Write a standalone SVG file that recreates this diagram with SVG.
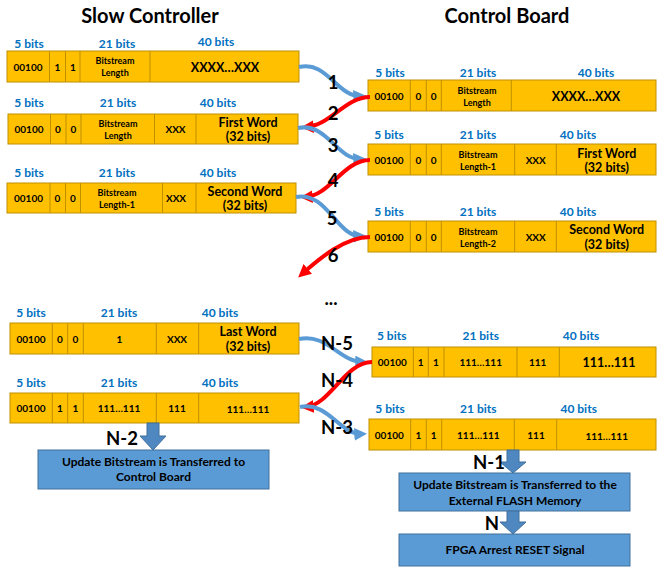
<svg xmlns="http://www.w3.org/2000/svg" width="657" height="567" viewBox="0 0 657 567">
<defs>
<style>
text{font-family:Lato,"Open Sans","Liberation Sans",sans-serif;font-weight:bold;text-anchor:middle;dominant-baseline:central}
.title{font-size:20px;fill:#000}
.bits{font-size:12px;fill:#0070C0}
.cell{fill:#FFC000;stroke:#BF9000;stroke-width:1}
.div{stroke:#BF9000;stroke-width:1}
.s{font-size:9px;fill:#000}
.m{font-size:10px;fill:#000}
.l{font-size:12.5px;fill:#000}
.num{font-size:18.5px;fill:#000}
.blue{fill:none;stroke:#5B9BD5;stroke-width:4}
.red{fill:none;stroke:#FF0000;stroke-width:4}
.box{fill:#5B9BD5;stroke:#41719C;stroke-width:1}
.bt{font-size:12px;fill:#000}
.barrow{fill:#4F87C1;stroke:#41719C;stroke-width:1}
</style>
<marker id="ab" viewBox="0 0 10 10" refX="6" refY="5" markerWidth="3.2" markerHeight="3.2" orient="auto" markerUnits="strokeWidth">
<path d="M0,0 L10,5 L0,10 z" fill="#5B9BD5"/>
</marker>
<marker id="ar" viewBox="0 0 10 10" refX="6" refY="5" markerWidth="3.2" markerHeight="3.2" orient="auto" markerUnits="strokeWidth">
<path d="M0,0 L10,5 L0,10 z" fill="#FF0000"/>
</marker>
</defs>
<rect width="657" height="567" fill="#fff"/>
<text class="title" x="150" y="15">Slow Controller</text>
<text class="title" x="507" y="15">Control Board</text>

<!-- Slow Controller rows -->
<g id="sc1">
<text class="bits" x="29" y="43">5 bits</text><text class="bits" x="117" y="43">21 bits</text><text class="bits" x="216" y="41">40 bits</text>
<rect class="cell" x="7" y="51" width="292" height="31"/>
<line class="div" x1="49.5" y1="51" x2="49.5" y2="82"/><line class="div" x1="65.5" y1="51" x2="65.5" y2="82"/><line class="div" x1="80" y1="51" x2="80" y2="82"/><line class="div" x1="150" y1="51" x2="150" y2="82"/>
<text class="m" x="28" y="66.5">00100</text><text class="m" x="57.5" y="66.5">1</text><text class="m" x="73" y="66.5">1</text>
<text class="s" x="115" y="60.5">Bitstream</text><text class="s" x="115" y="72.5">Length</text>
<text class="l" x="225" y="67">XXXX…XXX</text>
</g>
<g id="sc2">
<text class="bits" x="29" y="102">5 bits</text><text class="bits" x="118" y="102">21 bits</text><text class="bits" x="218" y="102">40 bits</text>
<rect class="cell" x="8" y="114" width="290" height="30"/>
<line class="div" x1="50.5" y1="114" x2="50.5" y2="144"/><line class="div" x1="66" y1="114" x2="66" y2="144"/><line class="div" x1="81" y1="114" x2="81" y2="144"/><line class="div" x1="154.5" y1="114" x2="154.5" y2="144"/><line class="div" x1="196" y1="114" x2="196" y2="144"/>
<text class="m" x="29" y="129">00100</text><text class="m" x="58" y="129">0</text><text class="m" x="73.5" y="129">0</text>
<text class="s" x="118" y="123">Bitstream</text><text class="s" x="118" y="135">Length</text>
<text class="m" x="175.5" y="129">XXX</text>
<text class="l" x="248" y="122">First Word</text><text class="l" x="248" y="136.5">(32 bits)</text>
</g>
<g id="sc3">
<text class="bits" x="29" y="172">5 bits</text><text class="bits" x="117" y="172">21 bits</text><text class="bits" x="218" y="172">40 bits</text>
<rect class="cell" x="7" y="183" width="289" height="30"/>
<line class="div" x1="50" y1="183" x2="50" y2="213"/><line class="div" x1="65.5" y1="183" x2="65.5" y2="213"/><line class="div" x1="80.5" y1="183" x2="80.5" y2="213"/><line class="div" x1="162.5" y1="183" x2="162.5" y2="213"/><line class="div" x1="196" y1="183" x2="196" y2="213"/>
<text class="m" x="28.5" y="198">00100</text><text class="m" x="57.5" y="198">0</text><text class="m" x="73" y="198">0</text>
<text class="s" x="117" y="192">Bitstream</text><text class="s" x="117" y="204">Length-1</text>
<text class="m" x="176" y="198">XXX</text>
<text class="l" x="245" y="191">Second Word</text><text class="l" x="245" y="205.5">(32 bits)</text>
</g>
<g id="sc4">
<text class="bits" x="31" y="312">5 bits</text><text class="bits" x="119" y="312">21 bits</text><text class="bits" x="220" y="312">40 bits</text>
<rect class="cell" x="10" y="323" width="289" height="31"/>
<line class="div" x1="52.3" y1="323" x2="52.3" y2="354"/><line class="div" x1="67.7" y1="323" x2="67.7" y2="354"/><line class="div" x1="83.3" y1="323" x2="83.3" y2="354"/><line class="div" x1="156.3" y1="323" x2="156.3" y2="354"/><line class="div" x1="198.7" y1="323" x2="198.7" y2="354"/>
<text class="m" x="31" y="339">00100</text><text class="m" x="60" y="339">0</text><text class="m" x="75.5" y="339">0</text>
<text class="m" x="119.5" y="339">1</text>
<text class="m" x="177" y="339">XXX</text>
<text class="l" x="248" y="331">Last Word</text><text class="l" x="248" y="346.5">(32 bits)</text>
</g>
<g id="sc5">
<text class="bits" x="31" y="382">5 bits</text><text class="bits" x="119" y="382">21 bits</text><text class="bits" x="220" y="382">40 bits</text>
<rect class="cell" x="10" y="393" width="289" height="30"/>
<line class="div" x1="52.3" y1="393" x2="52.3" y2="423"/><line class="div" x1="67.7" y1="393" x2="67.7" y2="423"/><line class="div" x1="83.3" y1="393" x2="83.3" y2="423"/><line class="div" x1="156.3" y1="393" x2="156.3" y2="423"/><line class="div" x1="198.7" y1="393" x2="198.7" y2="423"/>
<text class="m" x="31" y="408">00100</text><text class="m" x="60" y="408">1</text><text class="m" x="75.5" y="408">1</text>
<text class="m" x="119" y="408">111…111</text>
<text class="m" x="177" y="408">111</text>
<text class="m" x="248" y="408.5">111…111</text>
</g>

<!-- Control Board rows -->
<g id="cb1">
<text class="bits" x="390" y="72">5 bits</text><text class="bits" x="478" y="72">21 bits</text><text class="bits" x="596" y="72">40 bits</text>
<rect class="cell" x="368" y="80" width="288" height="31"/>
<line class="div" x1="410.3" y1="80" x2="410.3" y2="111"/><line class="div" x1="426.3" y1="80" x2="426.3" y2="111"/><line class="div" x1="441.3" y1="80" x2="441.3" y2="111"/><line class="div" x1="511.3" y1="80" x2="511.3" y2="111"/>
<text class="m" x="389" y="96">00100</text><text class="m" x="418.3" y="96">0</text><text class="m" x="433.7" y="96">0</text>
<text class="s" x="477" y="90">Bitstream</text><text class="s" x="477" y="102.5">Length</text>
<text class="l" x="586" y="96.5">XXXX…XXX</text>
</g>
<g id="cb2">
<text class="bits" x="389" y="134">5 bits</text><text class="bits" x="478" y="134">21 bits</text><text class="bits" x="578" y="134">40 bits</text>
<rect class="cell" x="368" y="144" width="288" height="31"/>
<line class="div" x1="410.3" y1="144" x2="410.3" y2="175"/><line class="div" x1="426.3" y1="144" x2="426.3" y2="175"/><line class="div" x1="441.3" y1="144" x2="441.3" y2="175"/><line class="div" x1="514.7" y1="144" x2="514.7" y2="175"/><line class="div" x1="556.3" y1="144" x2="556.3" y2="175"/>
<text class="m" x="389" y="160">00100</text><text class="m" x="418.3" y="160">0</text><text class="m" x="433.7" y="160">0</text>
<text class="s" x="478" y="154">Bitstream</text><text class="s" x="478" y="166.5">Length-1</text>
<text class="m" x="535.7" y="160">XXX</text>
<text class="l" x="606.7" y="153">First Word</text><text class="l" x="606.7" y="167.5">(32 bits)</text>
</g>
<g id="cb3">
<text class="bits" x="389" y="211">5 bits</text><text class="bits" x="478" y="211">21 bits</text><text class="bits" x="578" y="211">40 bits</text>
<rect class="cell" x="368" y="221" width="288" height="31"/>
<line class="div" x1="410.3" y1="221" x2="410.3" y2="252"/><line class="div" x1="426.3" y1="221" x2="426.3" y2="252"/><line class="div" x1="441.3" y1="221" x2="441.3" y2="252"/><line class="div" x1="514.7" y1="221" x2="514.7" y2="252"/><line class="div" x1="556.3" y1="221" x2="556.3" y2="252"/>
<text class="m" x="389" y="237">00100</text><text class="m" x="418.3" y="237">0</text><text class="m" x="433.7" y="237">0</text>
<text class="s" x="478" y="231">Bitstream</text><text class="s" x="478" y="243.5">Length-2</text>
<text class="m" x="535.7" y="237">XXX</text>
<text class="l" x="606.7" y="229.5">Second Word</text><text class="l" x="606.7" y="244">(32 bits)</text>
</g>
<g id="cb4">
<text class="bits" x="391.7" y="335">5 bits</text><text class="bits" x="480.7" y="335">21 bits</text><text class="bits" x="581" y="335">40 bits</text>
<rect class="cell" x="372" y="347" width="284" height="30"/>
<line class="div" x1="413.3" y1="347" x2="413.3" y2="377"/><line class="div" x1="428.3" y1="347" x2="428.3" y2="377"/><line class="div" x1="444" y1="347" x2="444" y2="377"/><line class="div" x1="517" y1="347" x2="517" y2="377"/><line class="div" x1="559.3" y1="347" x2="559.3" y2="377"/>
<text class="m" x="392.3" y="362">00100</text><text class="m" x="420.7" y="362">1</text><text class="m" x="436" y="362">1</text>
<text class="m" x="480.7" y="362">111…111</text>
<text class="m" x="537.7" y="362">111</text>
<text class="l" x="609" y="362.5">111…111</text>
</g>
<g id="cb5">
<text class="bits" x="390" y="408">5 bits</text><text class="bits" x="478.3" y="408">21 bits</text><text class="bits" x="578.7" y="408">40 bits</text>
<rect class="cell" x="369" y="419" width="287" height="31"/>
<line class="div" x1="410.7" y1="419" x2="410.7" y2="450"/><line class="div" x1="426.3" y1="419" x2="426.3" y2="450"/><line class="div" x1="441.7" y1="419" x2="441.7" y2="450"/><line class="div" x1="514.3" y1="419" x2="514.3" y2="450"/><line class="div" x1="556.7" y1="419" x2="556.7" y2="450"/>
<text class="m" x="389.3" y="435">00100</text><text class="m" x="418.3" y="435">1</text><text class="m" x="433.7" y="435">1</text>
<text class="m" x="478.3" y="435">111…111</text>
<text class="m" x="536" y="435">111</text>
<text class="m" x="606.7" y="435.5">111…111</text>
</g>

<!-- Result boxes -->
<g id="box1">
<rect class="box" x="38" y="450" width="231" height="39"/>
<text class="bt" x="153.5" y="461.7">Update Bitstream is Transferred to</text>
<text class="bt" x="153.5" y="476.7">Control Board</text>
</g>
<g id="box2">
<rect class="box" x="399" y="473" width="231" height="38"/>
<text class="bt" x="515" y="484.3">Update Bitstream is Transferred to the</text>
<text class="bt" x="515" y="500">External FLASH Memory</text>
</g>
<g id="box3">
<rect class="box" x="399" y="534" width="231" height="32"/>
<text class="bt" x="515" y="549.5">FPGA Arrest RESET Signal</text>
</g>

<!-- Connectors -->
<g id="connectors">
<path class="blue" d="M299,67 C327,60 337,97 361,96" marker-end="url(#ab)"/>
<path class="red" d="M370,97 C345,97 330,126 306,127" marker-end="url(#ar)"/>
<path class="blue" d="M298,128 C327,122 337,160 361,159" marker-end="url(#ab)"/>
<path class="red" d="M370,160 C343,160 330,196 305,197" marker-end="url(#ar)"/>
<path class="blue" d="M296,197 C327,191 337,237 361,236" marker-end="url(#ab)"/>
<path class="red" d="M370,237 C345,237 320,258 302,274" marker-end="url(#ar)"/>
<path class="blue" d="M299,339 C327,333 340,362 363,362" marker-end="url(#ab)"/>
<path class="red" d="M372,362 C345,362 330,405 306,407" marker-end="url(#ar)"/>
<path class="blue" d="M300,407 C328,401 340,435 362,434" marker-end="url(#ab)"/>
<polygon class="barrow" points="147,423 159,423 159,436 166,436 153,450 140,436 147,436"/>
<polygon class="barrow" points="507,450 519,450 519,462 526,462 513,473 500,462 507,462"/>
<polygon class="barrow" points="507,511 519,511 519,522 526,522 513,534 500,522 507,522"/>
<text class="num" x="333" y="82">1</text>
<text class="num" x="333" y="113">2</text>
<text class="num" x="333" y="145">3</text>
<text class="num" x="333" y="180">4</text>
<text class="num" x="332" y="218">5</text>
<text class="num" x="333" y="255">6</text>
<text class="num" x="331" y="298">...</text>
<text class="num" x="337" y="343">N-5</text>
<text class="num" x="337" y="380">N-4</text>
<text class="num" x="337" y="427">N-3</text>
<text class="num" x="122" y="438">N-2</text>
<text class="num" x="489" y="462">N-1</text>
<text class="num" x="492" y="523">N</text>
</g>
</svg>
